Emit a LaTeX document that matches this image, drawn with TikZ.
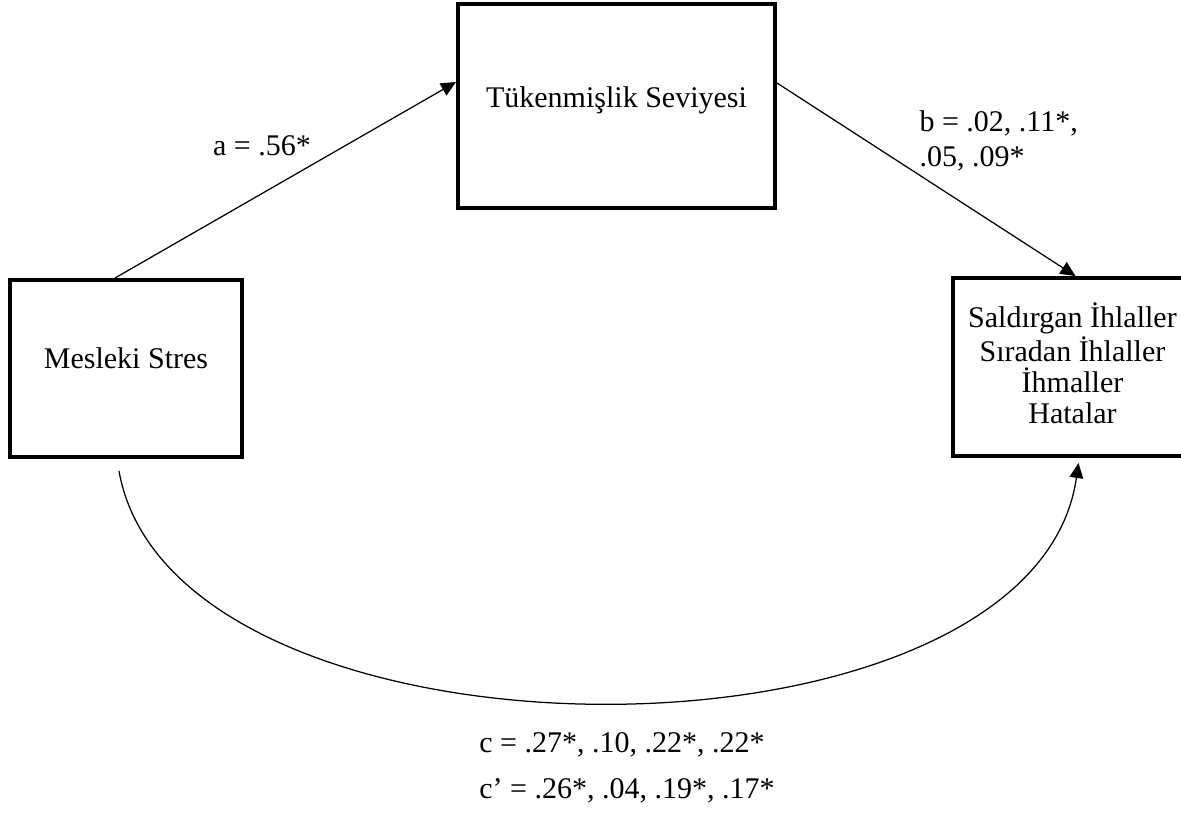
\documentclass[tikz,border=0pt]{standalone}
\usepackage{fontspec}
\setmainfont{Liberation Serif}
\usepackage{tikz}
\usetikzlibrary{arrows.meta, positioning, calc}

\begin{document}
\begin{tikzpicture}[
    x=0.4pt, y=-0.4pt,
    varbox/.style={rectangle, draw, line width=1.6pt, text centered, font=\fontsize{12}{12.4}\selectfont},
    coef/.style={font=\fontsize{12}{14}\selectfont, inner sep=0pt},
    arrow/.style={-{Triangle[length=6pt, width=5.5pt]}, line width=0.5pt}
]
\useasboundingbox (0,0) rectangle (1181,816);

\node[varbox, minimum width=92.8pt, minimum height=70.8pt, text depth=8pt]  (ms) at (126,368.5) {Mesleki Stres};
\node[varbox, minimum width=126.8pt, minimum height=81.6pt, text depth=7.5pt] (ts) at (616.5,106) {Tükenmişlik Seviyesi};
\node[varbox, minimum width=95.6pt, minimum height=71.2pt, align=center, text depth=3pt] (sv) at (1072.5,367)
    {Saldırgan İhlaller\\Sıradan İhlaller\\İhmaller\\Hatalar};

\draw[arrow] ($(ms.north)+(-11,0)$) -- ($(ts.west)+(0,-24)$);
\draw[arrow] ($(ts.east)+(0,-23)$) -- ($(sv.north)+(3,0)$);
\draw[arrow] ($(ms.south)+(-7,12)$) .. controls +(55,310) and +(-45,318) .. ($(sv.south)+(6,5)$);

% coefficients
\node[coef] (la) at (262,146) {a = .56*};
\node[coef, align=left, anchor=west] (lb) at (919,140.5) {b = .02, .11*,\\.05, .09*};
\node[coef] (lc) at (622,745) {c = .27*, .10, .22*, .22*};
\node[coef] (lcp) at (627,791) {c’ = .26*, .04, .19*, .17*};
\end{tikzpicture}
\end{document}
